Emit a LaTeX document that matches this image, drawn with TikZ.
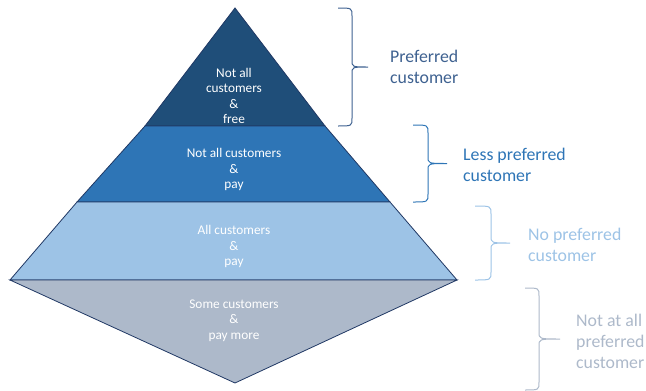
\documentclass[tikz,border=0pt]{standalone}
\usepackage{fontspec}
\setmainfont{Carlito}
\usepackage{xcolor}
\usepackage{tikz}
\definecolor{navy}{HTML}{1F4E79}
\definecolor{midblue}{HTML}{2E75B6}
\definecolor{lightblue}{HTML}{9DC3E6}
\definecolor{greyblue}{HTML}{ADB9CA}
\definecolor{edgeblue}{HTML}{203864}
\definecolor{prefblue}{HTML}{3E6190}
\tikzset{
    layer/.style={draw=edgeblue, line width=0.8pt, line join=miter},
    inner/.style={font=\fontsize{13.3}{15.5}\selectfont, text=white, align=center, inner sep=0pt},
    side/.style={font=\fontsize{17.8}{21}\selectfont, align=left, anchor=west, inner sep=0pt},
    curly/.style={line width=1pt}
}
% brace: #1 colour, #2 hook end x, #3 spine x, #4 tip x, #5 top y, #6 bottom y
\newcommand{\levelbrace}[6]{%
    \draw[curly, #1] (#2,#5) .. controls (#3,#5) .. (#3,#5+8)
        -- (#3,{(#5+#6)/2-7}) .. controls (#3,{(#5+#6)/2}) .. (#4,{(#5+#6)/2})
        .. controls (#3,{(#5+#6)/2}) .. (#3,{(#5+#6)/2+7})
        -- (#3,#6-8) .. controls (#3,#6) .. (#2,#6);
}

\begin{document}
\begin{tikzpicture}[x=1pt, y=-1pt]
    \useasboundingbox (0,0) rectangle (646,391);

    % Pyramid layers
    \filldraw[layer, fill=navy] (235,8) -- (325,126) -- (145,126) -- cycle;
    \filldraw[layer, fill=midblue] (145,126) -- (325,126) -- (390,202) -- (77,202) -- cycle;
    \filldraw[layer, fill=lightblue] (77,202) -- (390,202) -- (457,280) -- (10,280) -- cycle;
    \filldraw[layer, fill=greyblue] (10,280) -- (457,280) -- (235,383) -- cycle;

    % Layer texts
    \node[inner] (free) at (234,96) {Not all\\customers\\\&\\free};
    \node[inner] (pay1) at (234,169.5) {Not all customers\\\&\\pay};
    \node[inner] (pay2) at (234,246.5) {All customers\\\&\\pay};
    \node[inner] (paymore) at (234,320.5) {Some customers\\\&\\pay more};

    % Braces
    \levelbrace{prefblue}{338}{352}{368}{8}{126}
    \levelbrace{midblue}{413}{428}{447}{125}{202}
    \levelbrace{lightblue}{475}{491}{510}{206}{280}
    \levelbrace{greyblue}{525}{539}{560}{288}{390}

    % Brace labels
    \node[side, text=prefblue] (pref) at (390,67) {Preferred\\customer};
    \node[side, text=midblue] (lesspref) at (463,165) {Less preferred\\customer};
    \node[side, text=lightblue] (nopref) at (528,244.5) {No preferred\\customer};
    \node[side, text=greyblue] (notatall) at (576,341.5) {Not at all\\preferred\\customer};
\end{tikzpicture}
\end{document}
